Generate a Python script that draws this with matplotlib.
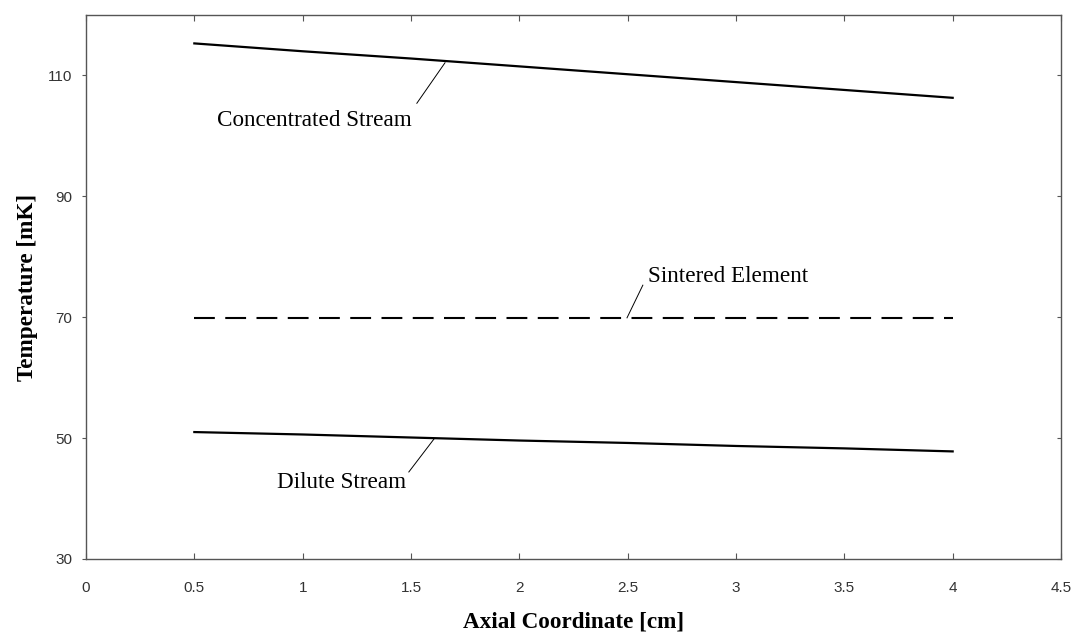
import matplotlib
matplotlib.use("Agg")
import matplotlib.pyplot as plt

# axial coordinate [cm]
x_cm = [0.5, 1.0, 1.5, 2.0, 2.5, 3.0, 3.5, 4.0]

# temperatures [mK]
t_concentrated = [115.3, 114.0, 112.8, 111.5, 110.2, 108.9, 107.6, 106.3]
t_sintered = [69.8, 69.8, 69.8, 69.8, 69.8, 69.8, 69.8, 69.8]
t_dilute = [51.0, 50.6, 50.1, 49.6, 49.2, 48.7, 48.3, 47.8]

xticks = [0, 0.5, 1, 1.5, 2, 2.5, 3, 3.5, 4, 4.5]
xtick_labels = ["0", "0.5", "1", "1.5", "2", "2.5", "3", "3.5", "4", "4.5"]
yticks = [30, 50, 70, 90, 110]

serif = "Liberation Serif"
tick_font = "Liberation Sans"
fs = 16.7

fig = plt.figure(figsize=(10.75, 6.37), dpi=100)
ax = fig.add_axes([86 / 1075, 1 - 559 / 637, (1061 - 86) / 1075, (559 - 15) / 637])

ax.plot(x_cm, t_concentrated, color="black", lw=1.6)
ax.plot(x_cm, t_dilute, color="black", lw=1.6)
ax.plot(x_cm, t_sintered, color="black", lw=1.5, dashes=(10, 5))

ax.set_xlim(0, 4.5)
ax.set_ylim(30, 120)
ax.set_xticks(xticks)
ax.set_xticklabels(xtick_labels)
ax.set_yticks(yticks)

for s in ax.spines.values():
    s.set_color("#555555")
    s.set_linewidth(1.0)

ax.tick_params(axis="x", direction="in", top=True, length=4, width=0.8,
               color="#555555", pad=16, labelsize=11, labelcolor="#333333")
ax.tick_params(axis="y", direction="out", length=3, width=0.8,
               color="#555555", pad=7, labelsize=11, labelcolor="#333333")
ax.tick_params(axis="y", which="both", right=True)
for t in ax.yaxis.get_major_ticks():
    t.tick2line.set_marker(0)  # inward on the right
for lab in ax.get_xticklabels() + ax.get_yticklabels():
    lab.set_fontfamily(tick_font)

ax.set_xlabel("Axial Coordinate [cm]", fontfamily=serif, fontweight="bold",
              fontsize=fs, labelpad=12)
ax.set_ylabel("Temperature [mK]", fontfamily=serif, fontweight="bold",
              fontsize=fs, labelpad=7)

# labels with leader lines
ax.plot([1.657, 1.527], [112.1, 105.4], color="black", lw=0.7)
ax.text(1.052, 102.6, "Concentrated Stream", fontfamily=serif, fontsize=fs,
        ha="center", va="center")

ax.plot([2.497, 2.570], [69.9, 75.3], color="black", lw=0.7)
ax.text(2.963, 76.8, "Sintered Element", fontfamily=serif, fontsize=fs,
        ha="center", va="center")

ax.plot([1.606, 1.49], [49.85, 44.4], color="black", lw=0.7)
ax.text(1.181, 42.6, "Dilute Stream", fontfamily=serif, fontsize=fs,
        ha="center", va="center")

fig.savefig("out.png", dpi=100)
